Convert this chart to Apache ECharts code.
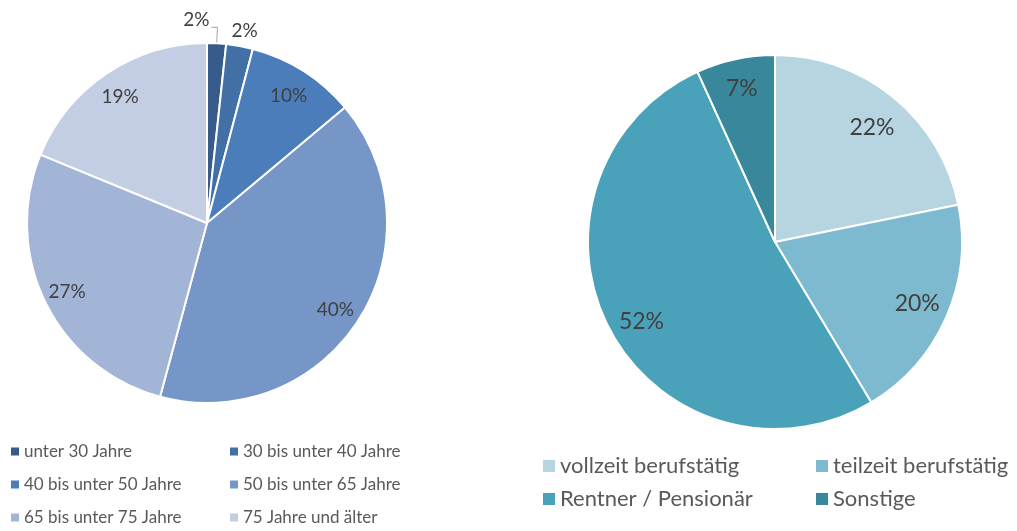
<!DOCTYPE html>
<html>
<head>
<meta charset="utf-8">
<script src="https://cdn.jsdelivr.net/npm/echarts@6/dist/echarts.min.js"></script>
<style>
  html, body { margin: 0; padding: 0; background: #fff; }
  #main { width: 1017px; height: 531px; }
</style>
</head>
<body>
<div id="main"></div>
<script>
// Altersgruppen (linker Kreis)
var ageNames = ["unter 30 Jahre", "30 bis unter 40 Jahre", "40 bis unter 50 Jahre",
  "50 bis unter 65 Jahre", "65 bis unter 75 Jahre", "75 Jahre und älter"];
var ageValues = [1.7, 2.4, 9.8, 40.3, 27.0, 18.8];
var ageColors = ["#375C8C", "#416FA6", "#4A7DBA", "#7596C7", "#A2B5D6", "#C3CDE3"];

// Erwerbsstatus (rechter Kreis)
var jobNames = ["vollzeit berufstätig", "teilzeit berufstätig", "Rentner / Pensionär", "Sonstige"];
var jobValues = [21.8, 19.6, 51.8, 6.8];
var jobColors = ["#B6D5E0", "#7EBACF", "#4AA2BA", "#39879B"];

var FONT = "Lato, 'Open Sans', sans-serif";

function pct(p) {
  return Math.round(p.percent) + "%";
}

// kleine Korrekturen der Beschriftung (Excel "beste Anpassung")
function nudge(shift) {
  return function (params) {
    var s = shift[params.dataIndex];
    if (s) return { dx: s[0], dy: s[1] };
  };
}

function init_pies(container) {
  var chartDom = document.getElementById(container);
  var myChart = echarts.init(chartDom);

  var ageData = ageNames.map(function (n, i) {
    var item = { name: n, value: ageValues[i], itemStyle: { color: ageColors[i] } };
    // die zwei kleinen Segmente bekommen aussen liegende Beschriftungen
    if (i < 2) {
      item.label = { show: true, position: "outside" };
      item.labelLine = { show: true, length: 16, length2: 6 };
    }
    return item;
  });

  var ageRing = ageNames.map(function (n, i) {
    return { name: n, value: ageValues[i], label: { show: i >= 2 } };
  });

  var legendLeft = {
    orient: "vertical",
    icon: "rect",
    itemWidth: 8,
    itemHeight: 8,
    itemGap: 16,
    padding: 0,
    selectedMode: false,
    itemStyle: { borderWidth: 0 },
    textStyle: { color: "#595959", fontSize: 17, fontFamily: FONT },
  };
  var legendRight = {
    orient: "vertical",
    icon: "rect",
    itemWidth: 12,
    itemHeight: 12,
    itemGap: 11,
    padding: 0,
    selectedMode: false,
    itemStyle: { borderWidth: 0 },
    textStyle: { color: "#595959", fontSize: 22, fontFamily: FONT },
  };

  var option = {
    animation: false,
    legend: [
      Object.assign({ left: 11, top: 443, data: [ageNames[0], ageNames[2], ageNames[4]] }, legendLeft),
      Object.assign({ left: 230, top: 443, data: [ageNames[1], ageNames[3], ageNames[5]] }, legendLeft),
      Object.assign({ left: 543, top: 455, data: [jobNames[0], jobNames[2]] }, legendRight),
      Object.assign({ left: 816, top: 455, data: [jobNames[1], jobNames[3]] }, legendRight),
    ],
    series: [
      {
        type: "pie",
        center: [207, 223],
        radius: 180,
        startAngle: 90,
        avoidLabelOverlap: false,
        silent: true,
        itemStyle: { borderColor: "#fff", borderWidth: 2 },
        label: { show: false, formatter: pct, fontSize: 19, color: "#404040", fontFamily: FONT },
        labelLine: { show: false, lineStyle: { color: "#A6A6A6", width: 1 } },
        labelLayout: function (params) {
          var pts = params.labelLinePoints;
          if (!pts) return;
          var bend = pts[1];
          if (params.dataIndex === 0) {
            return {
              x: bend[0] - 8,
              y: bend[1] - 7,
              align: "right",
              verticalAlign: "middle",
              labelLinePoints: [pts[0], bend, [bend[0] - 6, bend[1]]],
            };
          }
          if (params.dataIndex === 1) {
            return {
              x: bend[0] + 2,
              y: bend[1] + 1,
              align: "center",
              verticalAlign: "middle",
              labelLinePoints: [bend, bend, bend],
            };
          }
        },
        data: ageData,
      },
      {
        // unsichtbarer Ring, nur fuer die Beschriftung bei ca. 85 % des Radius
        type: "pie",
        center: [207, 223],
        radius: [126, 180],
        startAngle: 90,
        silent: true,
        itemStyle: { color: "transparent" },
        label: { position: "inside", formatter: pct, fontSize: 19, color: "#404040", fontFamily: FONT },
        labelLine: { show: false },
        labelLayout: nudge({ 2: [-2, 5], 3: [-3, 3], 5: [0, 3] }),
        data: ageRing,
      },
      {
        type: "pie",
        center: [775, 242],
        radius: 187,
        startAngle: 90,
        silent: true,
        itemStyle: { borderColor: "#fff", borderWidth: 2 },
        label: { show: false },
        labelLine: { show: false },
        data: jobNames.map(function (n, i) {
          return { name: n, value: jobValues[i], itemStyle: { color: jobColors[i] } };
        }),
      },
      {
        type: "pie",
        center: [775, 242],
        radius: [120, 187],
        startAngle: 90,
        silent: true,
        itemStyle: { color: "transparent" },
        label: { position: "inside", formatter: pct, fontSize: 23, color: "#404040", fontFamily: FONT },
        labelLine: { show: false },
        labelLayout: nudge({ 0: [-2, 7], 1: [-1, -1], 2: [5, 7] }),
        data: jobNames.map(function (n, i) {
          return { name: n, value: jobValues[i] };
        }),
      },
    ],
  };

  window.addEventListener("resize", function () {
    myChart.resize();
  });
  myChart.setOption(option);
}

init_pies("main");
</script>
</body>
</html>
